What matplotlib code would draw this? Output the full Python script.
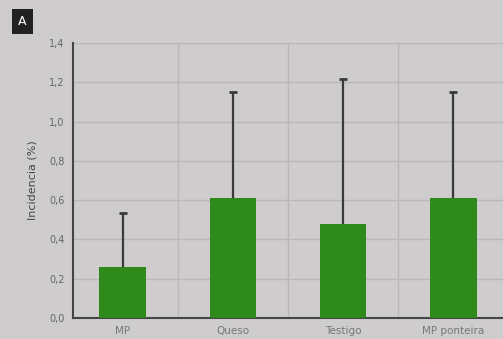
import matplotlib
matplotlib.use("Agg")
import matplotlib.pyplot as plt
import numpy as np

categories = ["MP", "Queso", "Testigo", "MP ponteira"]
incidence = [0.26, 0.61, 0.48, 0.61]
upper_limit = [0.535, 1.15, 1.215, 1.15]
y_ticks = [0.0, 0.2, 0.4, 0.6, 0.8, 1.0, 1.2, 1.4]
y_tick_labels = ["0,0", "0,2", "0,4", "0,6", "0,8", "1,0", "1,2", "1,4"]

bg = "#cecccd"
fig = plt.figure(figsize=(5.03, 3.39), dpi=100, facecolor=bg)
ax = fig.add_axes([0.145, 0.062, 0.855, 0.811], facecolor=bg)

x = np.arange(len(categories))
ax.bar(x, incidence, width=0.42, color="#2e8a1b", zorder=3)
# upper-only error whiskers with a small cap
ax.vlines(x, incidence, upper_limit, color="#3a3a3a", linewidth=1.6, zorder=4)
ax.plot(x, upper_limit, linestyle="none", marker="_", markersize=6,
        markeredgewidth=2, color="#3a3a3a", zorder=4)

ax.set_xlim(-0.45, 3.45)
ax.set_ylim(0, 1.4)
ax.set_yticks(y_ticks)
ax.set_yticklabels(y_tick_labels, fontsize=7, color="#666666")
ax.set_xticks(x)
ax.set_xticklabels(categories, fontsize=7.5, color="#777777")
ax.set_xticks([0.5, 1.5, 2.5], minor=True)
ax.tick_params(axis="both", which="both", length=0, pad=6)

ax.grid(axis="y", color="#b9b7b9", linewidth=1.0, zorder=0)
ax.grid(axis="x", which="minor", color="#b9b7b9", linewidth=1.0, zorder=0)
ax.grid(axis="x", which="major", visible=False)

for side in ["top", "right"]:
    ax.spines[side].set_visible(False)
ax.spines["left"].set_color("#444444")
ax.spines["left"].set_linewidth(1.5)
ax.spines["bottom"].set_color("#444444")
ax.spines["bottom"].set_linewidth(1.5)

ax.set_ylabel("Incidencia (%)", fontsize=8, color="#444444", labelpad=8)

fig.text(0.044, 0.937, "A", fontsize=9, color="white", ha="center", va="center",
         bbox=dict(boxstyle="square,pad=0.5", facecolor="#222222", edgecolor="none"))

fig.savefig("out.png", dpi=100, facecolor=bg)
